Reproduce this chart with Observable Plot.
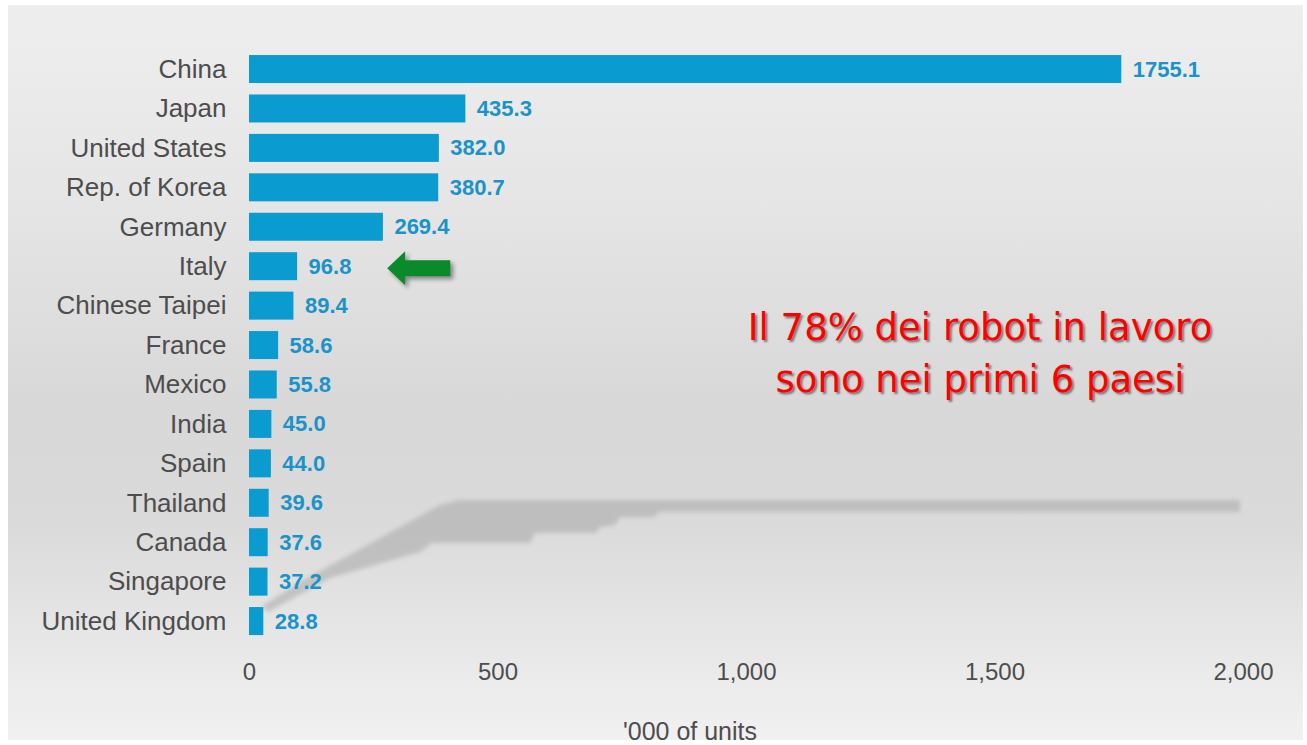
<!DOCTYPE html>
<html>
<head>
<meta charset="utf-8">
<script src="https://cdn.jsdelivr.net/npm/d3@7"></script>
<script src="https://cdn.jsdelivr.net/npm/@observablehq/plot@0.6"></script>
<style>
  html, body { margin: 0; padding: 0; background: #ffffff; width: 1307px; height: 745px; overflow: hidden; }
  #panel {
    position: absolute; left: 8px; top: 5px; width: 1295px; height: 735px;
    background: linear-gradient(to bottom, #eeeeee 0%, #e6e6e6 25%, #d8d8d8 55%, #dadada 70%, #e8e8e8 88%, #f1f1f1 100%);
  }
  #deco { position: absolute; left: 0; top: 0; }
  #chart { position: absolute; left: 0; top: 0; }
  #xlabel {
    position: absolute; left: 590px; width: 200px; top: 716px; text-align: center;
    font: 25px "Liberation Sans", Arial, sans-serif; color: #4d4d4d; line-height: 30px;
  }
  #note {
    position: absolute; left: 700px; width: 560px; top: 302px; text-align: center;
    font: 37px "DejaVu Sans", sans-serif; color: #ff0000; line-height: 52px;
    text-shadow: 2px 2px 2px rgba(0,0,0,0.45);
  }
</style>
</head>
<body>
<div id="panel"></div>
<svg id="deco" width="1307" height="745" aria-hidden="true">
  <defs><filter id="soft"><feGaussianBlur stdDeviation="2"/></filter></defs>
  <path d="M458,500 L1240,500 L1240,512 L658,512 L655,517 L620,517 L615,525 L600,527 L596,533 L535,533 L530,543 L432,543 L420,552 L330,578 L268,612 L262,606 L300,582 L440,505 Z"
        fill="#a8a8a8" opacity="0.55" filter="url(#soft)"/>
</svg>
<div id="chart"></div>
<div id="xlabel">'000 of units</div>
<div id="note">Il 78% dei robot in lavoro<br>sono nei primi 6 paesi</div>
<script>
const countries = ["China", "Japan", "United States", "Rep. of Korea", "Germany", "Italy", "Chinese Taipei", "France", "Mexico", "India", "Spain", "Thailand", "Canada", "Singapore", "United Kingdom"];
const values = [1755.1, 435.3, 382.0, 380.7, 269.4, 96.8, 89.4, 58.6, 55.8, 45.0, 44.0, 39.6, 37.6, 37.2, 28.8];
const xTicks = [0, 500, 1000, 1500, 2000];
const highlighted = "Italy";
const arrowTail = 405;  // '000 units, arrow tail
const arrowTip = 278;   // '000 units, arrow tip

const data = countries.map((c, i) => ({country: c, value: values[i]}));

function greenArrow(index, scales) {
  const x = scales.x, y = scales.y;
  const yc = y(highlighted) + y.bandwidth() / 2 + 2;
  const xt = x(arrowTip), xe = x(arrowTail);
  const headLen = 18, headHalf = 17, shaftHalf = 8;
  const d = `M${xt},${yc} L${xt + headLen},${yc - headHalf} L${xt + headLen},${yc - shaftHalf} L${xe},${yc - shaftHalf} L${xe},${yc + shaftHalf} L${xt + headLen},${yc + shaftHalf} L${xt + headLen},${yc + headHalf} Z`;
  const p = document.createElementNS("http://www.w3.org/2000/svg", "path");
  p.setAttribute("d", d);
  p.setAttribute("fill", "#0b8a2c");
  p.setAttribute("style", "filter: drop-shadow(3px 3px 2px rgba(0,0,0,0.4))");
  return p;
}

const fmt = d3.format(",");

const chart = Plot.plot({
  width: 1307,
  height: 745,
  marginLeft: 249,
  marginRight: 64,
  marginTop: 43.6,
  marginBottom: 98.5,
  style: {background: "transparent", fontFamily: "'Liberation Sans', Arial, sans-serif"},
  x: {domain: [0, 2000], ticks: xTicks, tickFormat: fmt, label: null},
  y: {domain: countries, padding: 0.29, round: false, label: null},
  marks: [
    Plot.barX(data, {x: "value", y: "country", fill: "#0a9bd0"}),
    Plot.text(data, {x: "value", y: "country", text: d => d.value.toFixed(1), textAnchor: "start", dx: 11, fill: "#1b93c8", fontWeight: "bold", fontSize: 22}),
    Plot.axisY({tickSize: 0, tickPadding: 23, fontSize: 26, color: "#4d4d4d", label: null}),
    Plot.axisX({ticks: xTicks, tickFormat: fmt, tickSize: 0, tickPadding: 16, fontSize: 24, color: "#4d4d4d", label: null}),
    greenArrow
  ]
});
document.getElementById("chart").appendChild(chart);
</script>
</body>
</html>
